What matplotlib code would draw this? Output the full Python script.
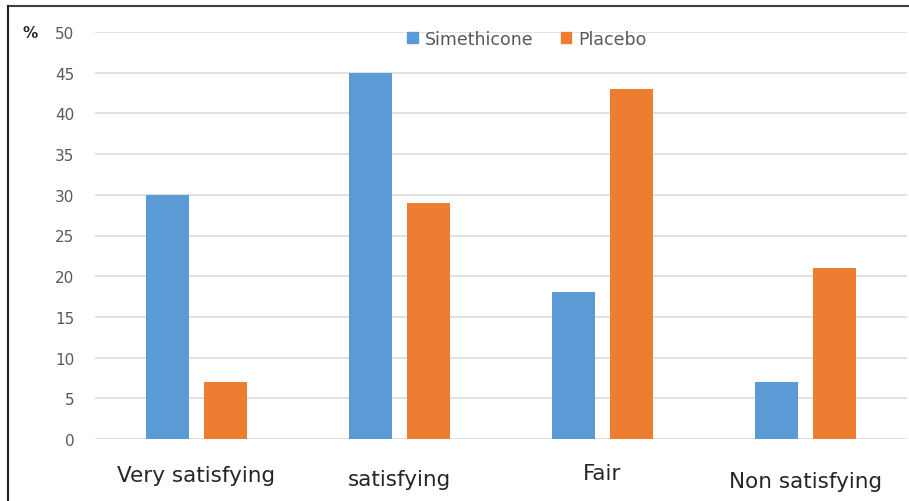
import numpy as np
import matplotlib.pyplot as plt
from matplotlib.patches import Rectangle
from matplotlib.lines import Line2D

categories = ["Very satisfying", "satisfying", "Fair", "Non satisfying"]
simethicone = [30, 45, 18, 7]
placebo = [7, 29, 43, 21]
yticks = [0, 5, 10, 15, 20, 25, 30, 35, 40, 45, 50]

blue = "#5b9bd5"
orange = "#ed7d31"

fig = plt.figure(figsize=(9.09, 5.02), dpi=100)
ax = fig.add_axes([95 / 909, 62 / 502, 812 / 909, 407 / 502])

x = np.arange(len(categories))
w = 0.215
off = 0.143
ax.bar(x - off, simethicone, w, color=blue, zorder=3)
ax.bar(x + off, placebo, w, color=orange, zorder=3)

ax.set_xlim(-0.5, 3.5)
ax.set_ylim(0, 50)
ax.set_yticks(yticks)
ax.set_yticklabels([str(v) for v in yticks], color="#595959", fontsize=11)
ax.yaxis.grid(True, color="#dcdcdc", linewidth=1.2, zorder=0)
ax.tick_params(axis="y", length=0, pad=15)
ax.set_xticks([])
for s in ax.spines.values():
    s.set_visible(False)

# category labels sit at slightly different heights
label_y = [476, 480, 474, 482]
for i, (c, yy) in enumerate(zip(categories, label_y)):
    fig.text((95 + 203 * i + 101.5) / 909, 1 - yy / 502, c, ha="center", va="center",
             fontsize=15.5, color="#262626")

fig.text(30 / 909, 1 - 34 / 502, "%", ha="center", va="center", fontsize=11,
         color="#262626", fontweight="bold")

handles = [Rectangle((0, 0), 1, 1, color=blue), Rectangle((0, 0), 1, 1, color=orange)]
fig.legend(handles, ["Simethicone", "Placebo"], loc="center", bbox_to_anchor=(527 / 909, 1 - 40 / 502),
           ncol=2, frameon=False, fontsize=12.5, labelcolor="#595959",
           handlelength=0.6, handleheight=0.6, handletextpad=0.4, columnspacing=1.6)

# frame along the top and left edges
fig.add_artist(Line2D([8 / 909, 1], [1 - 7 / 502, 1 - 7 / 502], color="#404040", linewidth=1.5))
fig.add_artist(Line2D([8 / 909, 8 / 909], [0, 1 - 7 / 502], color="#202020", linewidth=1.5))

fig.savefig("out.png", dpi=100)
